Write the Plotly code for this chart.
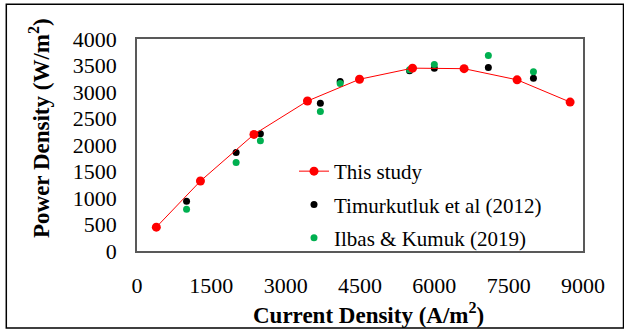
import plotly.graph_objects as go

# Power density vs current density
this_x = [390, 1280, 2360, 3440, 4490, 5560, 6600, 7670, 8740]
this_y = [450, 1320, 2200, 2830, 3240, 3450, 3440, 3230, 2810]

timur_x = [1000, 2000, 2490, 3700, 4100, 5500, 6000, 7090, 8000]
timur_y = [940, 1860, 2210, 2790, 3200, 3400, 3450, 3460, 3260]

ilbas_x = [1000, 2000, 2490, 3700, 4100, 5500, 6000, 7090, 8000]
ilbas_y = [790, 1670, 2080, 2630, 3160, 3420, 3520, 3690, 3380]

x_ticks = [0, 1500, 3000, 4500, 6000, 7500, 9000]
y_ticks = [0, 500, 1000, 1500, 2000, 2500, 3000, 3500, 4000]

FONT = "Liberation Serif"

fig = go.Figure()
fig.add_trace(go.Scatter(
    x=timur_x, y=timur_y, mode="markers", name="Timurkutluk et al (2012)",
    marker=dict(color="#000000", size=7), legendgroup="b", legendrank=2,
))
fig.add_trace(go.Scatter(
    x=ilbas_x, y=ilbas_y, mode="markers", name="Ilbas & Kumuk (2019)",
    marker=dict(color="#00B050", size=7), legendgroup="c", legendrank=3,
))
fig.add_trace(go.Scatter(
    x=this_x, y=this_y, mode="lines+markers", name="This study",
    line=dict(color="#FF0000", width=1),
    marker=dict(color="#FF0000", size=9), legendgroup="a", legendrank=1,
))

L, R, T, B = 137, 41, 39, 78
W, H = 624, 329
pw, ph = W - L - R, H - T - B

def px_x(p):
    return (p - L) / pw

def px_y(p):
    return (H - B - p) / ph

fig.update_layout(
    width=W, height=H,
    margin=dict(l=L, r=R, t=T, b=B),
    paper_bgcolor="white", plot_bgcolor="white",
    font=dict(family=FONT, color="black"),
    showlegend=True,
    legend=dict(
        x=px_x(294), y=px_y(151), xanchor="left", yanchor="top",
        font=dict(family=FONT, size=21, color="black"),
        bgcolor="rgba(0,0,0,0)", borderwidth=0,
        traceorder="grouped", tracegroupgap=3,
    ),
    xaxis=dict(
        range=[0, 9000], tickvals=x_ticks, showgrid=False, zeroline=False,
        showline=True, mirror=True, linecolor="#595959", linewidth=1.5,
        ticks="", tickfont=dict(family=FONT, size=22), ticklabelstandoff=14,
    ),
    yaxis=dict(
        range=[0, 4000], tickvals=y_ticks, showgrid=False, zeroline=False,
        showline=True, mirror=True, linecolor="#595959", linewidth=1.5,
        ticks="", tickfont=dict(family=FONT, size=22), ticklabelstandoff=14,
    ),
    annotations=[
        dict(text="<b>Current Density (A/m<sup>2</sup>)</b>", xref="paper", yref="paper",
             x=px_x(368), y=px_y(313), xanchor="center", yanchor="middle",
             showarrow=False, font=dict(family=FONT, size=23, color="black")),
        dict(text="<b>Power Density (W/m<sup>2</sup>)</b>", xref="paper", yref="paper",
             x=px_x(40), y=px_y(128), xanchor="center", yanchor="middle",
             textangle=-90, showarrow=False,
             font=dict(family=FONT, size=23, color="black")),
    ],
    shapes=[
        dict(type="rect", xref="paper", yref="paper",
             x0=px_x(6.3), x1=px_x(623.5), y0=px_y(328), y1=px_y(4.3),
             line=dict(color="black", width=1.5), layer="below"),
    ],
)

fig.write_html("out.html")
